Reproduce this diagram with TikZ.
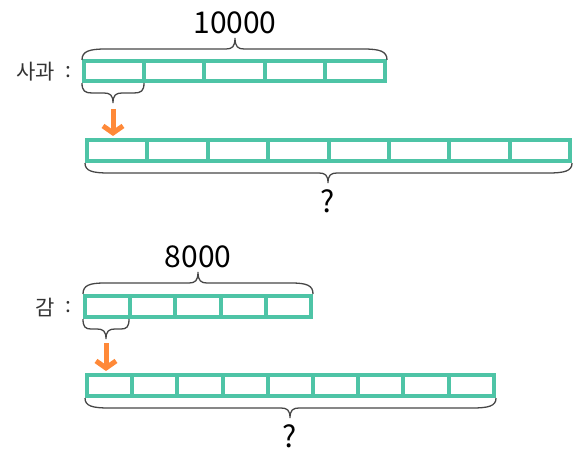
\documentclass[tikz,border=0pt]{standalone}
\usepackage{fontspec}
\setmainfont{Noto Sans CJK KR}
\usetikzlibrary{arrows.meta}
\definecolor{tape}{RGB}{78,196,166}
\definecolor{arr}{RGB}{255,137,56}
\definecolor{brc}{RGB}{70,70,70}
\tikzset{
  tapebar/.style={draw=tape, line width=4pt},
  bracepath/.style={draw=brc, line width=1.3pt},
  downarrow/.style={draw=arr, line width=5pt, -{Straight Barb[length=7pt,width=20pt]}},
  numlabel/.style={font=\fontsize{30}{30}\selectfont, text=black, inner sep=0pt},
  namelabel/.style={font=\fontsize{21}{21}\selectfont, text=black!80, inner sep=0pt}
}
% x1, x2, y0, h (signed), tip x, end width
\newcommand{\curlybrace}[6]{%
  \draw[bracepath] ({#1},{#3}) .. controls ({#1},{#3+0.8*(#4)}) and ({#1+0.3*#6},{#3+(#4)}) .. ({#1+#6},{#3+(#4)})
    -- ({#5-9},{#3+(#4)}) .. controls ({#5-3},{#3+(#4)}) and ({#5},{#3+1.2*(#4)}) .. ({#5},{#3+2*(#4)})
    .. controls ({#5},{#3+1.2*(#4)}) and ({#5+3},{#3+(#4)}) .. ({#5+9},{#3+(#4)})
    -- ({#2-#6},{#3+(#4)}) .. controls ({#2-0.3*#6},{#3+(#4)}) and ({#2},{#3+0.8*(#4)}) .. ({#2},{#3});
}
\begin{document}
\begin{tikzpicture}[x=1pt,y=-1pt]
\useasboundingbox (0,0) rectangle (580,454);
% ---------- apples ----------
\node[namelabel, anchor=east] (lab1) at (55,72) {사과};
\node[namelabel] (col1) at (68,72) {:};
\draw[tapebar] (84,61) rectangle (385,81);
\foreach \i in {1,...,4} \draw[tapebar] ({84+\i*60.2},61) -- ({84+\i*60.2},81);
\draw[tapebar] (87,140) rectangle (570,161);
\foreach \i in {1,...,7} \draw[tapebar] ({87+\i*60.4},140) -- ({87+\i*60.4},161);
\curlybrace{82}{387}{60}{-11}{235}{24}
\coordinate (tip1) at (235,38);
\node[numlabel, anchor=south] (n1) at (tip1) [yshift=4pt] {10000};
\curlybrace{82}{144}{83}{10}{113}{10}
\coordinate (a1s) at (113,109);
\coordinate (a1e) at (113,136);
\draw[downarrow] (a1s) -- (a1e);
\curlybrace{85}{572}{163}{10}{328}{24}
\coordinate (tip2) at (328,183);
\node[numlabel, anchor=north] (q1) at (tip2) [yshift=-6pt] {?};
% ---------- persimmons ----------
\node[namelabel, anchor=east] (lab2) at (55,307) {감};
\node[namelabel] (col2) at (68,307) {:};
\draw[tapebar] (85,296) rectangle (311,317);
\foreach \i in {1,...,4} \draw[tapebar] ({85+\i*45.2},296) -- ({85+\i*45.2},317);
\draw[tapebar] (87,375) rectangle (494,396);
\foreach \i in {1,...,8} \draw[tapebar] ({87+\i*45.2},375) -- ({87+\i*45.2},396);
\curlybrace{83}{313}{294}{-11}{198}{22}
\coordinate (tip3) at (198,272);
\node[numlabel, anchor=south] (n2) at (tip3) [yshift=4pt] {8000};
\curlybrace{83}{129}{319}{10}{106}{8}
\coordinate (a2s) at (106,343);
\coordinate (a2e) at (106,371);
\draw[downarrow] (a2s) -- (a2e);
\curlybrace{85}{496}{398}{10}{290}{24}
\coordinate (tip4) at (290,418);
\node[numlabel, anchor=north] (q2) at (tip4) [yshift=-6pt] {?};
\end{tikzpicture}
\end{document}
